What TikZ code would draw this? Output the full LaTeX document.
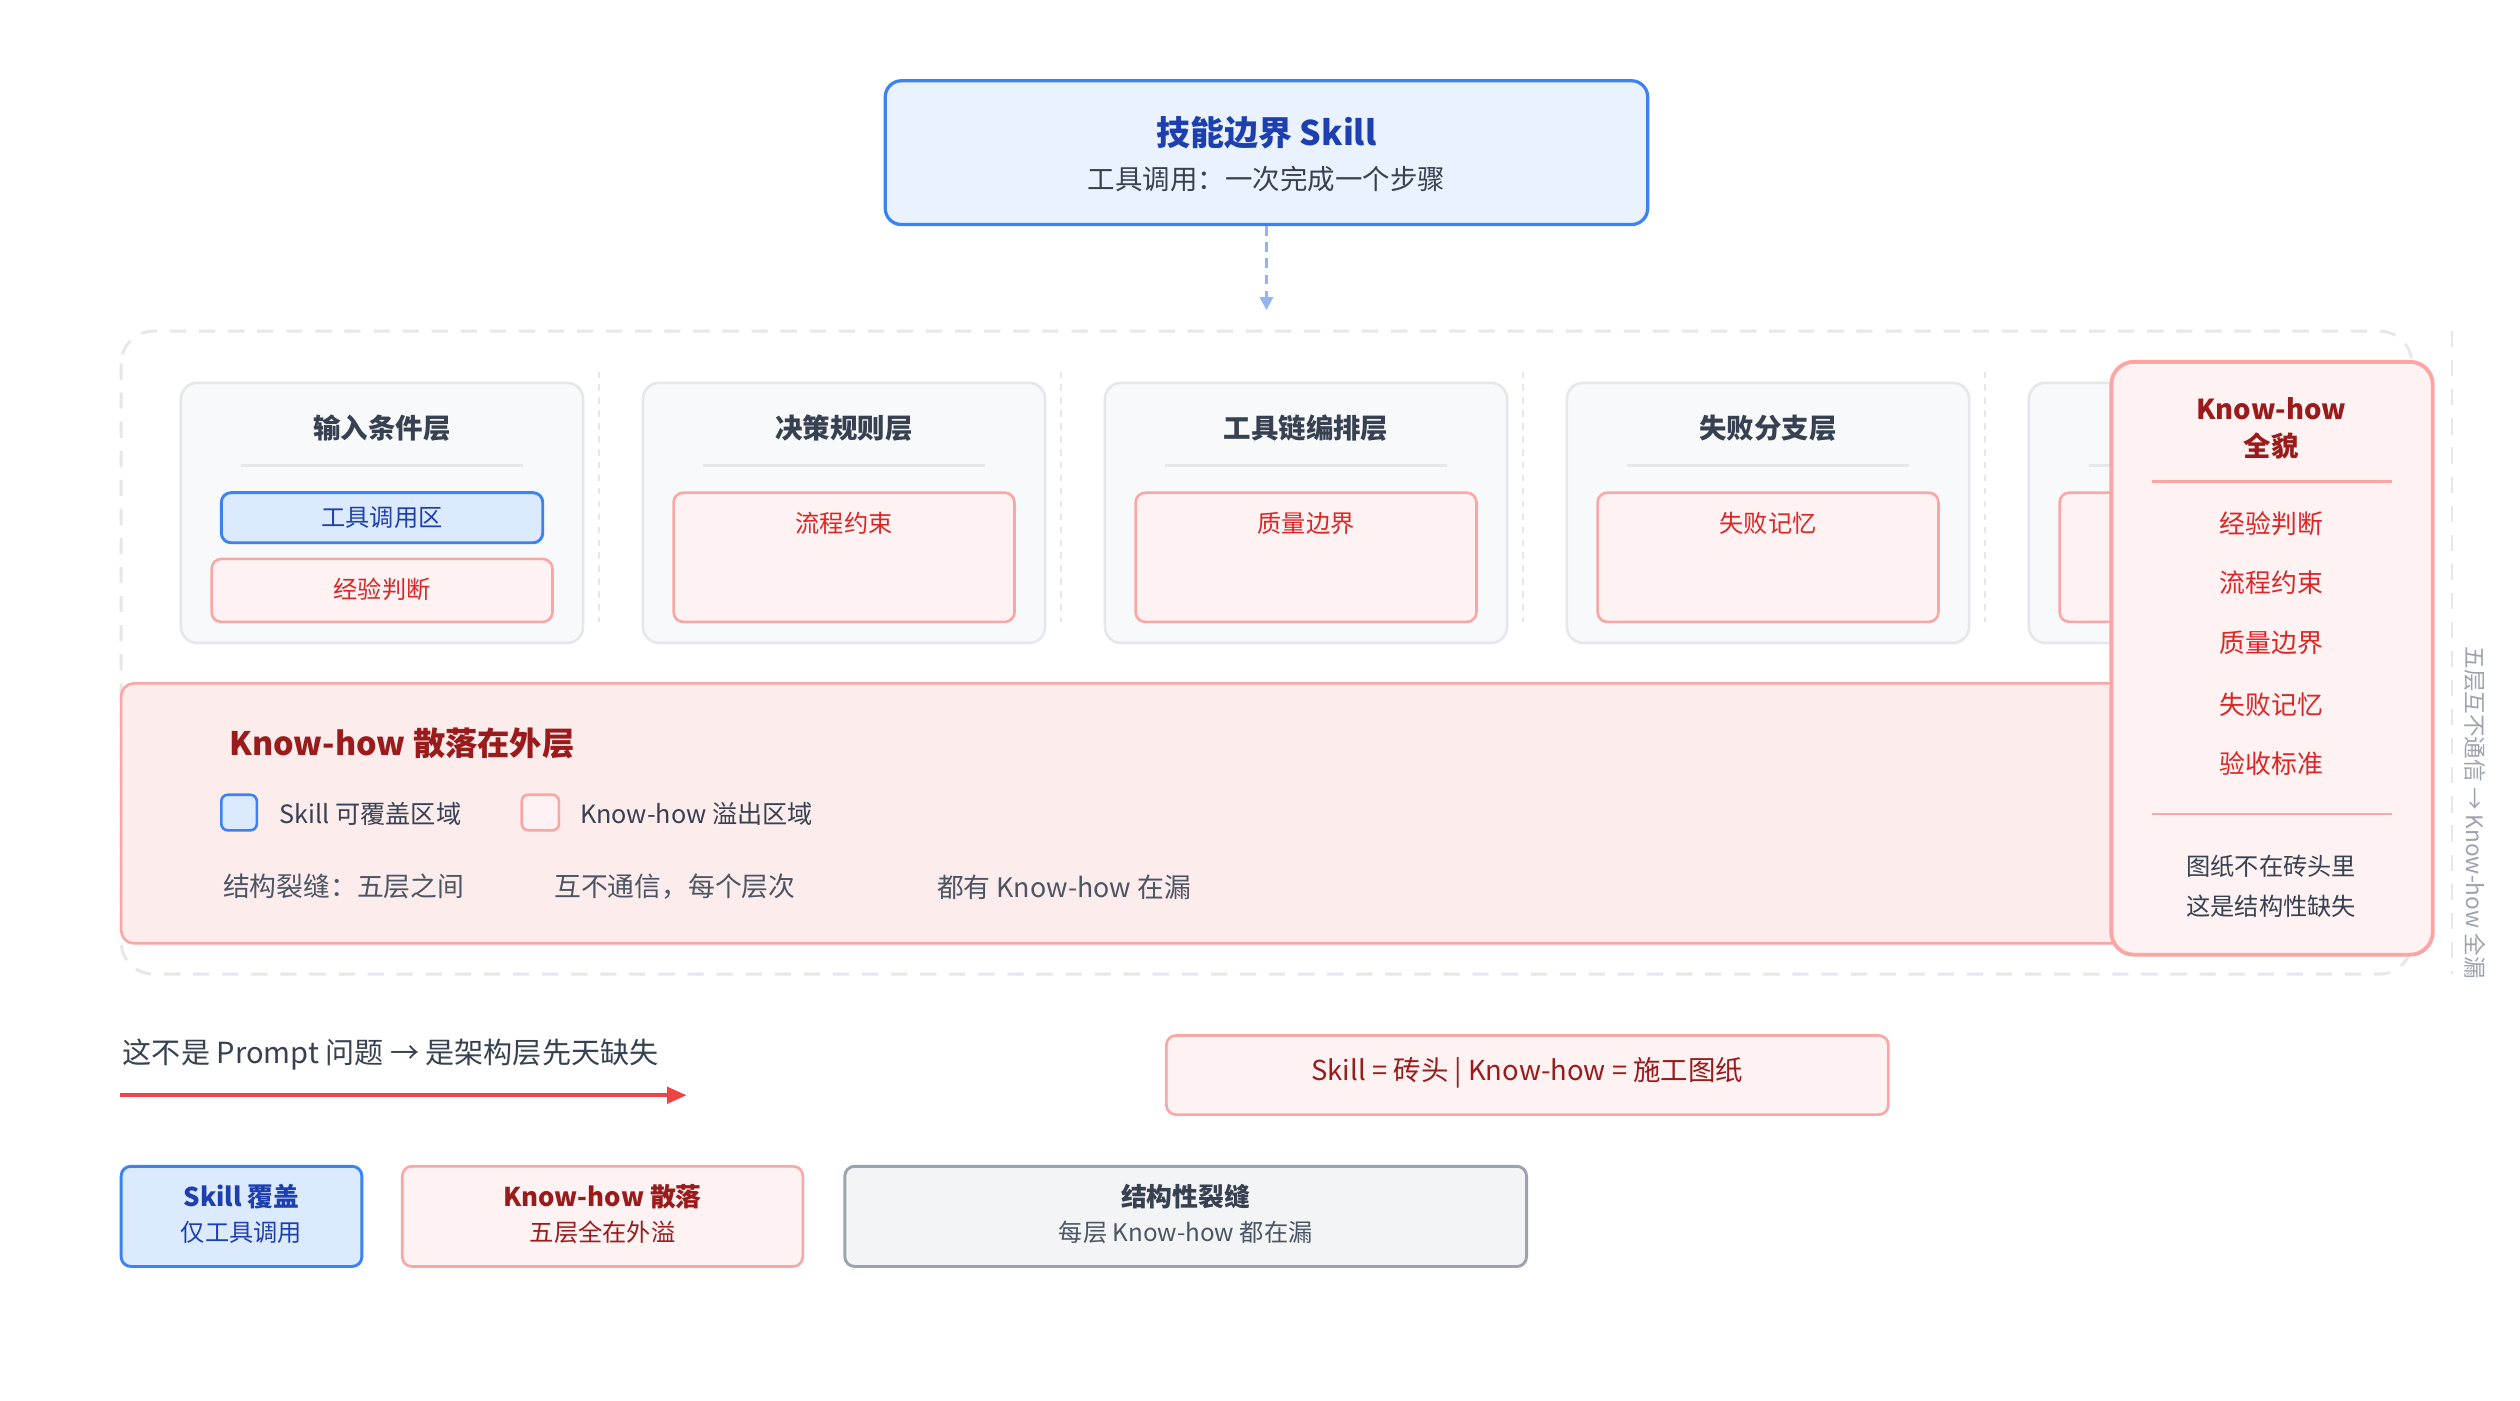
\documentclass[tikz,border=0pt]{standalone}
\usepackage{fontspec}
\setmainfont{Noto Sans CJK SC}
\usetikzlibrary{arrows.meta}
\definecolor{bblue}{HTML}{3B82F6}
\definecolor{lblue}{HTML}{EAF2FF}
\definecolor{mblue}{HTML}{DBEAFE}
\definecolor{dblue}{HTML}{1E40AF}
\definecolor{pblue}{HTML}{93B4F0}
\definecolor{rline}{HTML}{FCA5A5}
\definecolor{rfill}{HTML}{FEF2F2}
\definecolor{rband}{HTML}{FDECEC}
\definecolor{dred}{HTML}{991B1B}
\definecolor{mred}{HTML}{DC2626}
\definecolor{ared}{HTML}{EF4444}
\definecolor{gline}{HTML}{E5E7EB}
\definecolor{gfill}{HTML}{F8F9FB}
\definecolor{gtext}{HTML}{4B5563}
\definecolor{dtext}{HTML}{374151}
\definecolor{gbord}{HTML}{9CA3AF}
\definecolor{gbox}{HTML}{F3F4F6}
\tikzset{
  card/.style={draw=gline,fill=gfill,line width=0.8pt,rounded corners=5pt},
  rbox/.style={draw=rline,fill=rfill,line width=0.8pt,rounded corners=3pt},
  ctitle/.style={font=\bfseries\fontsize{8.5}{10}\selectfont,text=dtext},
  item/.style={font=\fontsize{7.5}{9}\selectfont,text=mred},
  gt/.style={font=\fontsize{8.3}{10}\selectfont,text=gtext,anchor=west},
}
\begin{document}
\begin{tikzpicture}[x=0.5pt,y=-0.5pt]
\useasboundingbox[fill=white] (0,0) rectangle (1560,866.7);
% top box
\draw[draw=bblue,fill=lblue,line width=1pt,rounded corners=5pt] (548,50) rectangle (1020,139);
\node (tt) [font=\bfseries\fontsize{10.5}{12}\selectfont,text=dblue] at (784,82) {技能边界 Skill};
\node (ts) [font=\fontsize{8.5}{10}\selectfont,text=dtext] at (784,111) {工具调用：一次完成一个步骤};
\coordinate (a1) at (784,140);
\coordinate (a2) at (784,192);
\draw[pblue,line width=0.9pt,dash pattern=on 3pt off 2pt,-{Triangle[length=4pt,width=4pt]}] (a1) -- (a2);
% outer dashed
\draw[gline,line width=0.9pt,dash pattern=on 5pt off 4pt,rounded corners=10pt] (75,205) rectangle (1493,603);
\draw[gline,line width=0.8pt,dash pattern=on 5pt off 4pt] (1518,205) -- (1518,603);
\node[rotate=-90,font=\fontsize{7}{8}\selectfont,text=gbord] at (1532,503) {五层互不通信 → Know-how 全漏};
% separators
\foreach \x in {380,666,952,1238}
  \draw[gline,line width=0.6pt,dash pattern=on 2pt off 2pt] (\x-9,230) -- (\x-9,385);
% cards
\foreach \x/\t in {112/输入条件层,398/决策规则层,684/工具链编排层,970/失败分支层,1256/{}}{
  \draw[card] (\x,237) rectangle (\x+249,398);
  \node[ctitle] at (\x+124.5,265) {\t};
  \draw[gline,line width=0.8pt] (\x+37,288) -- (\x+212,288);
}
\draw[draw=bblue,fill=mblue,line width=0.9pt,rounded corners=3pt] (137,305) rectangle (336,336);
\node[font=\fontsize{7.5}{9}\selectfont,text=dblue] at (236.5,320.5) {工具调用区};
\draw[rbox] (131,346) rectangle (342,385);
\node[item] at (236.5,365) {经验判断};
\foreach \x/\t in {398/流程约束,684/质量边界,970/失败记忆,1256/{}}{
  \draw[rbox] (\x+19,305) rectangle (\x+230,385);
  \node[item] at (\x+124.5,324) {\t};
}
% band
\draw[draw=rline,fill=rband,line width=0.8pt,rounded corners=4pt] (75,423) rectangle (1320,584);
\node[anchor=west,font=\bfseries\fontsize{10}{12}\selectfont,text=dred] at (135,460) {Know-how 散落在外层};
\draw[draw=bblue,fill=mblue,line width=0.8pt,rounded corners=2pt] (137,492) rectangle (159,514);
\node[anchor=west,font=\fontsize{7.8}{9}\selectfont,text=dtext] at (166,504) {Skill 可覆盖区域};
\draw[draw=rline,fill=rfill,line width=0.8pt,rounded corners=2pt] (323,492) rectangle (346,514);
\node[anchor=west,font=\fontsize{7.8}{9}\selectfont,text=dtext] at (352,504) {Know-how 溢出区域};
\node[gt] at (131,549) {结构裂缝：五层之间};
\node[gt] at (336,549) {互不通信，每个层次};
\node[gt] at (573,549) {都有 Know-how 在漏};
% right panel
\draw[draw=rline,fill=rfill,line width=1.2pt,rounded corners=7pt] (1307,224) rectangle (1506,591);
\node[font=\bfseries\fontsize{8.5}{11.5}\selectfont,text=dred,align=center] at (1406,265) {Know-how\\全貌};
\draw[rline,line width=0.8pt] (1332,298) -- (1481,298);
\foreach \y/\t in {324/经验判断,361/流程约束,398/质量边界,436/失败记忆,473/验收标准}
  \node[item,font=\fontsize{8}{9}\selectfont] at (1406,\y) {\t};
\draw[rline,line width=0.8pt] (1332,504) -- (1481,504);
\node[font=\fontsize{7.5}{9}\selectfont,text=dtext] at (1406,536) {图纸不在砖头里};
\node[font=\fontsize{7.5}{9}\selectfont,text=dtext] at (1406,561) {这是结构性缺失};
% statement
\node[anchor=west,font=\fontsize{9}{11}\selectfont,text=dtext] at (69,653) {这不是 Prompt 问题 → 是架构层先天缺失};
\coordinate (r1) at (74,678);
\coordinate (r2) at (425,678);
\draw[ared,line width=1.2pt,-{Triangle[length=6pt,width=5pt]}] (r1) -- (r2);
\draw[rbox] (722,641) rectangle (1169,690);
\node[font=\fontsize{8.5}{10}\selectfont,text=dred] at (945.5,664) {Skill = 砖头 | Know-how = 施工图纸};
% legend boxes
\draw[draw=bblue,fill=mblue,line width=0.9pt,rounded corners=3pt] (75,722) rectangle (224,784);
\node[font=\bfseries\fontsize{8}{9}\selectfont,text=dblue] at (149.5,741) {Skill 覆盖};
\node[font=\fontsize{7.5}{9}\selectfont,text=dblue] at (149.5,763) {仅工具调用};
\draw[rbox] (249,722) rectangle (497,784);
\node[font=\bfseries\fontsize{8}{9}\selectfont,text=dred] at (373,741) {Know-how 散落};
\node[font=\fontsize{7.5}{9}\selectfont,text=dred] at (373,763) {五层全在外溢};
\draw[draw=gbord,fill=gbox,line width=0.9pt,rounded corners=3pt] (523,722) rectangle (945,784);
\node[font=\bfseries\fontsize{8}{9}\selectfont,text=dtext] at (734,741) {结构性裂缝};
\node[font=\fontsize{7.5}{9}\selectfont,text=gtext] at (734,763) {每层 Know-how 都在漏};
\end{tikzpicture}
\end{document}
